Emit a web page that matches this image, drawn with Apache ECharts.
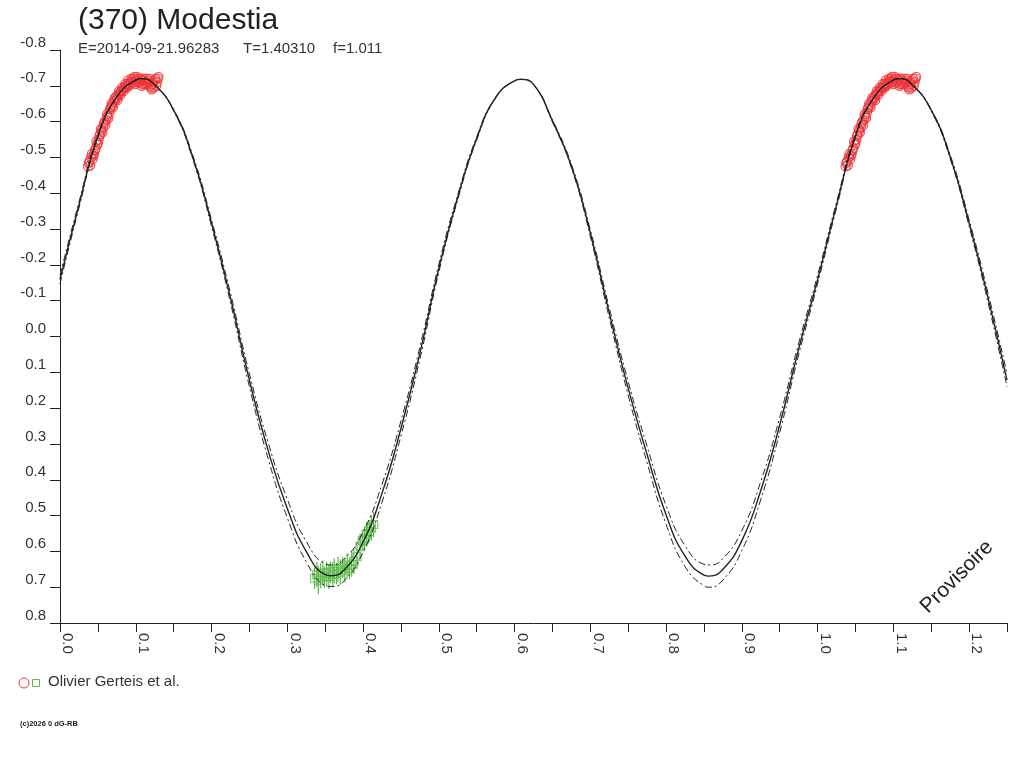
<!DOCTYPE html>
<html>
<head>
<meta charset="utf-8">
<title>(370) Modestia</title>
<script src="https://cdn.jsdelivr.net/npm/echarts@6.0.0/dist/echarts.min.js"></script>
<style>
  html, body { margin: 0; padding: 0; background: #ffffff; }
  #chart { width: 1024px; height: 768px; }
</style>
</head>
<body>
<div id="chart"></div>
<script>
// phase grid of the fitted model curve (extrema included)
const curvePhase = [
  0.000, 0.025, 0.050, 0.075, 0.100, 0.108, 0.125, 0.150, 0.175, 0.200, 0.225,
  0.250, 0.275, 0.300, 0.325, 0.350, 0.358, 0.375, 0.400, 0.425, 0.450, 0.475,
  0.500, 0.525, 0.550, 0.575, 0.600, 0.608, 0.625, 0.650, 0.675, 0.700, 0.725,
  0.750, 0.775, 0.800, 0.825, 0.850, 0.857, 0.875, 0.900, 0.925, 0.950, 0.975,
  1.000, 1.025, 1.050, 1.075, 1.100, 1.108, 1.125, 1.150, 1.175, 1.200, 1.225,
  1.250
]
// model curve (relative magnitude)
const curveMid = [
  -0.159, -0.367, -0.560, -0.669, -0.716, -0.720, -0.703, -0.632, -0.502, -0.317, -0.108,
  0.122, 0.320, 0.480, 0.600, 0.665, 0.668, 0.652, 0.574, 0.438, 0.257, 0.047,
  -0.190, -0.389, -0.553, -0.667, -0.714, -0.718, -0.704, -0.602, -0.476, -0.289, -0.066,
  0.145, 0.330, 0.498, 0.613, 0.666, 0.669, 0.650, 0.570, 0.430, 0.247, 0.035,
  -0.159, -0.367, -0.560, -0.669, -0.716, -0.720, -0.703, -0.632, -0.502, -0.317, -0.108,
  0.122
]
// envelope curves
const curveUpper = [
  -0.171, -0.375, -0.564, -0.670, -0.716, -0.720, -0.703, -0.634, -0.507, -0.326, -0.121,
  0.104, 0.298, 0.454, 0.572, 0.635, 0.638, 0.622, 0.546, 0.413, 0.236, 0.030,
  -0.201, -0.396, -0.557, -0.668, -0.714, -0.718, -0.704, -0.605, -0.481, -0.298, -0.080,
  0.126, 0.307, 0.472, 0.584, 0.636, 0.638, 0.620, 0.542, 0.405, 0.226, 0.019,
  -0.171, -0.375, -0.564, -0.670, -0.716, -0.720, -0.703, -0.634, -0.507, -0.326, -0.121,
  0.104
]
const curveLower = [
  -0.147, -0.359, -0.556, -0.668, -0.716, -0.720, -0.703, -0.630, -0.497, -0.308, -0.095,
  0.140, 0.343, 0.506, 0.629, 0.695, 0.698, 0.682, 0.602, 0.463, 0.278, 0.064,
  -0.179, -0.382, -0.549, -0.666, -0.714, -0.718, -0.704, -0.599, -0.471, -0.280, -0.052,
  0.164, 0.353, 0.524, 0.642, 0.696, 0.700, 0.680, 0.598, 0.455, 0.268, 0.051,
  -0.147, -0.359, -0.556, -0.668, -0.716, -0.720, -0.703, -0.630, -0.497, -0.308, -0.095,
  0.140
]

// Olivier Gerteis et al. - session 1 (red circles)
const redPhase = [
  0.037, 0.039, 0.041, 0.043, 0.045, 0.047, 0.049, 0.051, 0.053, 0.055,
  0.057, 0.059, 0.061, 0.063, 0.065, 0.067, 0.069, 0.071, 0.073, 0.075,
  0.077, 0.079, 0.081, 0.083, 0.085, 0.087, 0.089, 0.091, 0.093, 0.095,
  0.097, 0.099, 0.101, 0.103, 0.105, 0.107, 0.109, 0.111, 0.113, 0.115,
  0.117, 0.119, 0.121, 0.123, 0.125, 0.127, 0.129,
  0.038, 0.040, 0.042, 0.044, 0.046, 0.048, 0.050, 0.052, 0.054, 0.056,
  0.058, 0.060, 0.062, 0.064, 0.066, 0.068, 0.070, 0.072, 0.074, 0.076,
  0.078, 0.080, 0.082, 0.084, 0.086, 0.088, 0.090, 0.092, 0.094, 0.096,
  0.098, 0.100, 0.102, 0.104, 0.106, 0.108, 0.110, 0.112, 0.114, 0.116,
  0.118, 0.120, 0.122, 0.124, 0.126, 0.128, 0.130
]
const redMag = [
  -0.475, -0.490, -0.500, -0.495, -0.510, -0.525, -0.535, -0.550, -0.565, -0.575,
  -0.585, -0.600, -0.605, -0.615, -0.625, -0.640, -0.645, -0.655, -0.660, -0.665,
  -0.675, -0.680, -0.685, -0.690, -0.695, -0.700, -0.705, -0.700, -0.710, -0.715,
  -0.720, -0.710, -0.715, -0.720, -0.710, -0.715, -0.705, -0.715, -0.710, -0.705,
  -0.715, -0.700, -0.690, -0.710, -0.715, -0.700, -0.720,
  -0.485, -0.478, -0.510, -0.505, -0.520, -0.545, -0.540, -0.560, -0.580, -0.570,
  -0.595, -0.590, -0.620, -0.610, -0.635, -0.650, -0.640, -0.665, -0.670, -0.660,
  -0.685, -0.675, -0.695, -0.685, -0.705, -0.695, -0.715, -0.705, -0.720, -0.710,
  -0.725, -0.705, -0.725, -0.710, -0.720, -0.700, -0.720, -0.705, -0.720, -0.710,
  -0.720, -0.695, -0.705, -0.695, -0.720, -0.710, -0.725
]

// session 2 (green squares with error bars)
const greenPhase = [
  0.336, 0.339, 0.341, 0.344, 0.347, 0.349, 0.352, 0.355, 0.357, 0.360,
  0.362, 0.365, 0.367, 0.370, 0.373, 0.376, 0.379, 0.382, 0.385, 0.388,
  0.392, 0.396, 0.399, 0.402, 0.405, 0.408, 0.411, 0.414
]
const greenMag = [
  0.675, 0.665, 0.680, 0.668, 0.660, 0.672, 0.663, 0.670, 0.658, 0.665,
  0.655, 0.662, 0.650, 0.658, 0.645, 0.652, 0.640, 0.648, 0.636, 0.628,
  0.615, 0.585, 0.570, 0.565, 0.552, 0.545, 0.535, 0.525
]
const greenErr = [
  0.030, 0.035, 0.040, 0.035, 0.035, 0.030, 0.035, 0.035, 0.030, 0.035,
  0.035, 0.030, 0.035, 0.035, 0.030, 0.035, 0.035, 0.030, 0.035, 0.035,
  0.035, 0.035, 0.030, 0.035, 0.035, 0.030, 0.035, 0.035
]

const RED = '#ee3338'
const GREEN = '#5cbb4a'
const INK = '#222222'
const FONT = '"Liberation Sans", Arial, sans-serif'

const chart = echarts.init(document.getElementById('chart'))

const pairs = (xs, ys) => xs.map((x, i) => [x, ys[i]])

const option = {
  backgroundColor: '#ffffff',
  animation: false,
  textStyle: { fontFamily: FONT },
  grid: { left: 60, right: 17, top: 50, bottom: 145 },
  xAxis: {
    type: 'value',
    min: 0,
    max: 1.25,
    interval: 0.05,
    splitLine: { show: false },
    axisLine: { onZero: false, lineStyle: { color: INK, width: 1 } },
    axisTick: { length: 9, lineStyle: { color: INK } },
    axisLabel: {
      rotate: -90,
      margin: 10,
      align: 'left',
      verticalAlign: 'bottom',
      color: '#333',
      fontSize: 15,
      fontFamily: FONT,
      formatter: v => (Math.round(v * 100) % 10 === 0 ? v.toFixed(1) : '')
    }
  },
  yAxis: {
    type: 'value',
    inverse: true,
    min: -0.8,
    max: 0.8,
    interval: 0.1,
    splitLine: { show: false },
    axisLine: { show: true, onZero: false, lineStyle: { color: INK, width: 1 } },
    axisTick: { length: 10, lineStyle: { color: INK } },
    axisLabel: {
      margin: 14,
      verticalAlign: 'bottom',
      color: '#333',
      fontSize: 15,
      fontFamily: FONT,
      formatter: v => (Math.abs(v) < 1e-9 ? 0 : v).toFixed(1)
    }
  },
  series: [
    {
      name: 'upper',
      type: 'line',
      smooth: true,
      showSymbol: false,
      data: pairs(curvePhase, curveUpper),
      lineStyle: { color: INK, width: 1, type: [7, 3, 2, 3] }
    },
    {
      name: 'lower',
      type: 'line',
      smooth: true,
      showSymbol: false,
      data: pairs(curvePhase, curveLower),
      lineStyle: { color: INK, width: 1, type: [7, 3, 2, 3] }
    },
    {
      name: 'model',
      type: 'line',
      smooth: true,
      showSymbol: false,
      data: pairs(curvePhase, curveMid),
      lineStyle: { color: INK, width: 1.4 }
    },
    {
      name: 'red',
      type: 'scatter',
      symbol: 'circle',
      symbolSize: 9,
      data: pairs(redPhase, redMag),
      itemStyle: { color: 'rgba(0,0,0,0)', borderColor: RED, borderWidth: 1.3 }
    },
    {
      // same session folded one cycle later
      name: 'red+1',
      type: 'scatter',
      symbol: 'circle',
      symbolSize: 9,
      data: pairs(redPhase.map(p => p + 1), redMag),
      itemStyle: { color: 'rgba(0,0,0,0)', borderColor: RED, borderWidth: 1.3 }
    },
    {
      name: 'green err',
      type: 'custom',
      data: greenPhase.map((p, i) => [p, greenMag[i], greenErr[i]]),
      encode: { x: 0, y: 1 },
      renderItem: (params, api) => {
        const x = api.value(0)
        const y = api.value(1)
        const e = api.value(2)
        const a = api.coord([x, y - e])
        const b = api.coord([x, y + e])
        return {
          type: 'line',
          shape: { x1: a[0], y1: a[1], x2: b[0], y2: b[1] },
          style: { stroke: GREEN, lineWidth: 1.2 }
        }
      }
    },
    {
      name: 'green',
      type: 'scatter',
      symbol: 'rect',
      symbolSize: 8,
      data: pairs(greenPhase, greenMag),
      itemStyle: { color: 'rgba(0,0,0,0)', borderColor: GREEN, borderWidth: 1.2 }
    }
  ],
  graphic: [
    {
      type: 'text', left: 78, top: 6,
      style: { text: '(370) Modestia', fill: INK, font: '30px ' + FONT }
    },
    {
      type: 'text', left: 78, top: 41,
      style: { text: 'E=2014-09-21.96283', fill: '#333', font: '15px ' + FONT }
    },
    {
      type: 'text', left: 243, top: 41,
      style: { text: 'T=1.40310', fill: '#333', font: '15px ' + FONT }
    },
    {
      type: 'text', left: 333, top: 41,
      style: { text: 'f=1.011', fill: '#333', font: '15px ' + FONT }
    },
    {
      type: 'circle', shape: { cx: 24, cy: 683, r: 5 },
      style: { fill: 'none', stroke: RED, lineWidth: 1 }
    },
    {
      type: 'rect', shape: { x: 32.5, y: 679.5, width: 7, height: 7 },
      style: { fill: 'none', stroke: GREEN, lineWidth: 1 }
    },
    {
      type: 'text', left: 48, top: 674,
      style: { text: 'Olivier Gerteis et al.', fill: '#333', font: '15px ' + FONT }
    },
    {
      type: 'text', left: 20, top: 720,
      style: { text: '(c)2026 0 dG-RB', fill: INK, font: 'bold 7.5px ' + FONT }
    },
    {
      type: 'text', x: 957, y: 577, rotation: Math.PI / 4,
      style: {
        text: 'Provisoire', fill: INK, font: '21px ' + FONT,
        align: 'center', verticalAlign: 'middle'
      }
    }
  ]
}

chart.setOption(option)
</script>
</body>
</html>
